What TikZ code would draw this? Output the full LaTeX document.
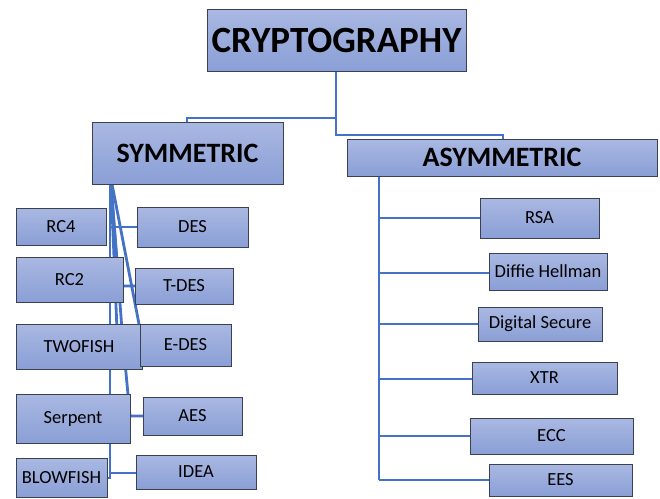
\documentclass[tikz,border=0pt]{standalone}
\usepackage{fontspec}
\setmainfont{Carlito}
\usetikzlibrary{calc}
\definecolor{conn}{HTML}{4472C4}
\definecolor{boxtop}{HTML}{AAB8E2}
\definecolor{boxbot}{HTML}{8A9FD6}
\definecolor{boxline}{HTML}{3A4250}
\tikzset{
  box/.style={draw=boxline, line width=0.9pt, top color=boxtop, bottom color=boxbot,
    inner sep=0pt, anchor=center, text=black},
  head/.style={box, font=\bfseries\fontsize{28}{32}\selectfont},
  small/.style={box, font=\fontsize{18.5}{22}\selectfont},
  link/.style={draw=conn, line width=2.8pt}
}
\begin{document}
\begin{tikzpicture}[x=1pt,y=-1pt]
\useasboundingbox (0,0) rectangle (660,498);
% connectors first
\coordinate (c1) at (336,118);
\coordinate (c2) at (336,135);
\coordinate (sb) at (110,184);
\coordinate (ab) at (379,176);
\coordinate (tend) at (108,478);
\draw[link] (336,71) -- (c2) -| (503,139);
\draw[link] (c1) -| (187,122);
% symmetric fan
\draw[link] (sb) -- (110,478) -- (tend);
\draw[link] (110,227) -- (192,227);
\draw[link] (111,184) -- (119,286) -- (180,286);
\draw[link] (112,184) -- (139,324);
\draw[link] (111,184) -- (117,330);
\draw[link] (111,184) -- (122,330) -- (130,416) -- (190,416);
\draw[link] (110,473) -- (190,473);
% asymmetric trunk
\draw[link] (ab) -- (379,480);
\foreach \yy in {218,273,324,379,436,480} \draw[link] (379,\yy) -- (500,\yy);
% boxes
\node[head, font=\bfseries\fontsize{37}{40}\selectfont, minimum width=259, minimum height=62] (crypto) at (336.5,40) {CRYPTOGRAPHY};
\node[head, minimum width=191, minimum height=62] (sym) at (187.5,153) {SYMMETRIC};
\node[head, minimum width=310, minimum height=37] (asym) at (502,157.5) {ASYMMETRIC};
\node[small, minimum width=119, minimum height=40] (rsa) at (539.5,218) {RSA};
\node[small, minimum width=118, minimum height=37] (dh) at (548,271.5) {Diffie Hellman};
\node[small, minimum width=124, minimum height=34] (ds) at (540,324) {Digital Secure};
\node[small, minimum width=145, minimum height=32] (xtr) at (544.5,378) {XTR};
\node[small, minimum width=163, minimum height=36] (ecc) at (551.5,436) {ECC};
\node[small, minimum width=143, minimum height=32] (ees) at (560.5,480) {EES};
\node[small, minimum width=90, minimum height=37] (rc4) at (61,226.5) {RC4};
\node[small, minimum width=111, minimum height=40] (des) at (192.5,227) {DES};
\node[small, minimum width=107, minimum height=45] (rc2) at (69.5,279.5) {RC2};
\node[small, minimum width=98, minimum height=36] (tdes) at (184,286) {T-DES};
\node[small, minimum width=126, minimum height=45] (twofish) at (79,346.5) {TWOFISH};
\node[small, minimum width=91, minimum height=42] (edes) at (185.5,345) {E-DES};
\node[small, minimum width=114, minimum height=49] (serpent) at (73,418.5) {Serpent};
\node[small, minimum width=99, minimum height=38] (aes) at (192.5,416) {AES};
\node[small, minimum width=91, minimum height=39] (blowfish) at (61.5,477.5) {BLOWFISH};
\node[small, minimum width=120, minimum height=34] (idea) at (196,472) {IDEA};
\end{tikzpicture}
\end{document}
